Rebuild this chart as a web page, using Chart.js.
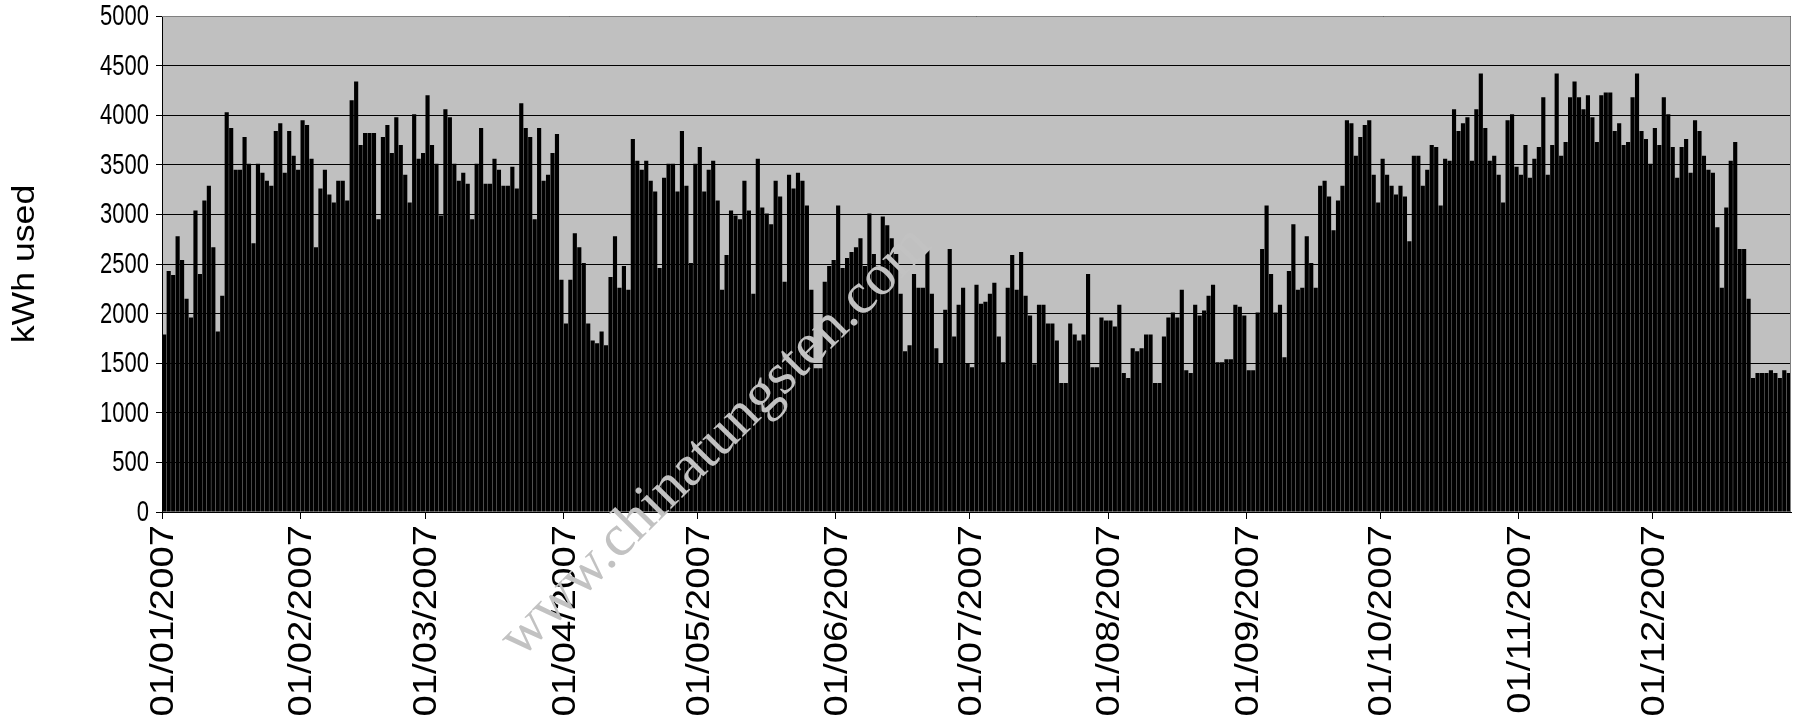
<!DOCTYPE html>
<html>
<head>
<meta charset="utf-8">
<script src="https://cdn.jsdelivr.net/npm/chart.js@4.4.0/dist/chart.umd.min.js"></script>
<style>
  html, body { margin: 0; padding: 0; background: #fff; }
  #chart { display: block; }
</style>
</head>
<body>
<canvas id="chart" width="1793" height="717"></canvas>
<script>
// daily kWh used, 2007, one array per month
const jan = [1790, 2430, 2390, 2780, 2540, 2150, 1960, 3040, 2400, 3140, 3290, 2670, 1820, 2180, 4030, 3870, 3450, 3450, 3780, 3510, 2710, 3510, 3420, 3340, 3290, 3840, 3920, 3420, 3840, 3590, 3450]
const feb = [3950, 3900, 3560, 2670, 3260, 3450, 3200, 3120, 3340, 3340, 3140, 4150, 4340, 3700, 3820, 3820, 3820, 2950, 3780, 3900, 3620, 3980, 3700, 3400, 3120, 4010, 3560, 3620]
const mar = [4200, 3700, 3510, 2990, 4060, 3980, 3510, 3340, 3420, 3310, 2950, 3510, 3870, 3310, 3310, 3560, 3450, 3290, 3290, 3480, 3260, 4120, 3870, 3780, 2950, 3870, 3340, 3400, 3620, 3810, 2340]
const apr = [1900, 2340, 2810, 2670, 2510, 1900, 1730, 1700, 1820, 1680, 2370, 2780, 2260, 2480, 2240, 3760, 3540, 3450, 3540, 3340, 3230, 2460, 3370, 3510, 3510, 3230, 3840, 3290, 2510, 3510]
const may = [3680, 3230, 3450, 3540, 3140, 2240, 2590, 3040, 2990, 2950, 3340, 3040, 2200, 3560, 3070, 3010, 2900, 3340, 3180, 2320, 3400, 3260, 3420, 3340, 3090, 2240, 1450, 1450, 2320, 2480, 2540]
const jun = [3090, 2460, 2560, 2620, 2670, 2760, 2480, 3010, 2600, 2480, 2980, 2890, 2760, 2600, 2200, 1620, 1680, 2400, 2260, 2260, 2650, 2200, 1650, 1500, 2040, 2650, 1770, 2090, 2260, 1500]
const jul = [1460, 2290, 2100, 2120, 2200, 2310, 1770, 1510, 2260, 2590, 2240, 2620, 2180, 1980, 1490, 2090, 2090, 1900, 1900, 1730, 1300, 1300, 1900, 1790, 1730, 1790, 2400, 1460, 1460, 1960, 1930]
const aug = [1930, 1870, 2090, 1400, 1350, 1650, 1620, 1650, 1790, 1790, 1300, 1300, 1770, 1960, 2010, 1960, 2240, 1430, 1400, 2090, 1980, 2030, 2180, 2290, 1510, 1510, 1540, 1540, 2090, 2070, 1980]
const sep = [1430, 1430, 2010, 2650, 3090, 2400, 2010, 2090, 1560, 2430, 2900, 2240, 2260, 2780, 2510, 2260, 3290, 3340, 3180, 2840, 3140, 3290, 3950, 3920, 3590, 3780, 3900, 3950, 3400, 3120]
const oct = [3560, 3400, 3290, 3200, 3290, 3180, 2730, 3590, 3590, 3290, 3450, 3700, 3680, 3090, 3560, 3540, 4060, 3840, 3920, 3980, 3540, 4060, 4420, 3870, 3540, 3590, 3400, 3120, 3950, 4010, 3480]
const nov = [3400, 3700, 3370, 3560, 3680, 4180, 3400, 3700, 4420, 3590, 3730, 4180, 4340, 4180, 4060, 4200, 3980, 3730, 4200, 4230, 4230, 3840, 3920, 3700, 3730, 4180, 4420, 3840, 3760, 3510]
const dec = [3870, 3700, 4180, 4010, 3680, 3370, 3680, 3760, 3420, 3950, 3840, 3590, 3450, 3420, 2870, 2260, 3070, 3540, 3730, 2650, 2650, 2150, 1350, 1400, 1400, 1400, 1430, 1400, 1350, 1430, 1400]

const monthLabels = ['01/01/2007', '01/02/2007', '01/03/2007', '01/04/2007', '01/05/2007', '01/06/2007',
  '01/07/2007', '01/08/2007', '01/09/2007', '01/10/2007', '01/11/2007', '01/12/2007']
const yTicks = [0, 500, 1000, 1500, 2000, 2500, 3000, 3500, 4000, 4500, 5000]
const yTitle = 'kWh used'
const watermark = 'www.chinatungsten.com'

const months = [jan, feb, mar, apr, may, jun, jul, aug, sep, oct, nov, dec]
const monthStarts = []
let dayCount = 0
months.forEach(m => {
  monthStarts.push(dayCount)
  dayCount += m.length
})
const daily = [].concat(...months)
const points = daily.map((v, i) => ({ x: i + 0.5, y: v }))

const FONT = '"Liberation Sans", Arial, sans-serif'

// the source picture's text is taller than it is wide, so text is drawn stretched
function stretchedText(ctx, text, x, y, sy, rotated, align) {
  ctx.save()
  ctx.translate(x, y)
  ctx.scale(1, sy)
  if (rotated) ctx.rotate(-Math.PI / 2)
  ctx.textAlign = align
  ctx.textBaseline = 'middle'
  ctx.fillText(text, 0, 0)
  ctx.restore()
}

const plotArea = {
  id: 'plotArea',
  beforeDraw: chart => {
    const { ctx, chartArea: a } = chart
    ctx.save()
    ctx.fillStyle = '#c0c0c0'
    ctx.fillRect(a.left, a.top, a.right - a.left, a.bottom - a.top)
    ctx.restore()
  },
  afterDraw: chart => {
    const { ctx, chartArea: a } = chart
    const xScale = chart.scales.x
    const yScale = chart.scales.y
    ctx.save()
    ctx.strokeStyle = '#808080'
    ctx.lineWidth = 1
    ctx.beginPath()
    ctx.moveTo(a.left, a.top + 0.5)
    ctx.lineTo(a.right - 0.5, a.top + 0.5)
    ctx.lineTo(a.right - 0.5, a.bottom)
    ctx.stroke()
    ctx.restore()

    ctx.save()
    ctx.fillStyle = '#000'
    ctx.font = `22px ${FONT}`
    yTicks.forEach(v => {
      stretchedText(ctx, String(v), a.left - 13, yScale.getPixelForValue(v) + 1, 1.32, false, 'right')
    })
    ctx.font = `33px ${FONT}`
    monthStarts.forEach((d, i) => {
      stretchedText(ctx, monthLabels[i], xScale.getPixelForValue(d) + 2, a.bottom + 13, 1.16, true, 'right')
    })
    ctx.font = `31px ${FONT}`
    stretchedText(ctx, yTitle, 25, (a.top + a.bottom) / 2, 1.15, true, 'center')
    ctx.restore()

    // site watermark over the picture
    ctx.save()
    ctx.translate(716, 442)
    ctx.rotate(-45 * Math.PI / 180)
    ctx.font = '59px "Liberation Serif", "DejaVu Serif", serif'
    ctx.fillStyle = '#c2c2c2'
    ctx.textAlign = 'center'
    ctx.textBaseline = 'middle'
    ctx.fillText(watermark, 0, 0)
    ctx.restore()
  }
}

new Chart(document.getElementById('chart').getContext('2d'), {
  type: 'bar',
  data: {
    datasets: [
      {
        label: yTitle,
        data: points,
        backgroundColor: '#000000',
        borderWidth: 0,
        barPercentage: 0.93,
        categoryPercentage: 1
      }
    ]
  },
  options: {
    responsive: false,
    animation: false,
    layout: { padding: { left: 0, right: 2, top: 16, bottom: 0 } },
    plugins: {
      legend: { display: false },
      tooltip: { enabled: false }
    },
    scales: {
      x: {
        type: 'linear',
        min: 0,
        max: dayCount,
        offset: false,
        afterBuildTicks: scale => {
          scale.ticks = monthStarts.map(v => ({ value: v }))
        },
        afterFit: scale => {
          scale.height = 205
        },
        ticks: { display: false, autoSkip: false },
        grid: {
          offset: false,
          color: 'rgba(0,0,0,0)',
          tickColor: '#000',
          tickLength: 7,
          drawTicks: true
        },
        border: { color: '#000', width: 1 }
      },
      y: {
        min: 0,
        max: 5000,
        afterFit: scale => {
          scale.width = 162
        },
        ticks: { display: false, stepSize: 500 },
        grid: {
          color: '#000',
          tickColor: '#000',
          tickLength: 6,
          lineWidth: 1
        },
        border: { color: '#000', width: 1 }
      }
    }
  },
  plugins: [plotArea]
})
</script>
</body>
</html>
